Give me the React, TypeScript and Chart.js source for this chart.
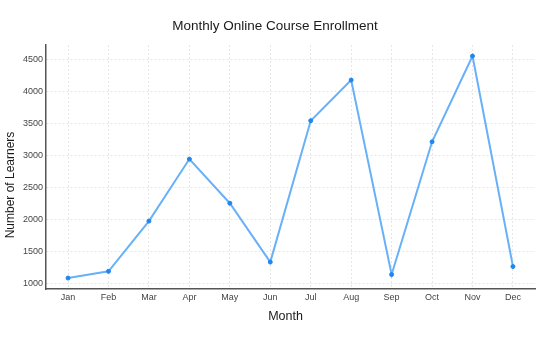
import React, { useEffect, useRef } from "react";
import { Chart, registerables } from "chart.js";

Chart.register(...registerables);

const months = ["Jan", "Feb", "Mar", "Apr", "May", "Jun", "Jul", "Aug", "Sep", "Oct", "Nov", "Dec"];
const learners = [1085, 1190, 1975, 2945, 2255, 1335, 3545, 4180, 1140, 3215, 4555, 1265];
const yTicks = [1000, 1500, 2000, 2500, 3000, 3500, 4000, 4500];

const FONT = "'Liberation Sans', Arial, Helvetica, sans-serif";

const axisTitles = {
  id: "axisTitles",
  afterDraw(chart: any) {
    const { ctx, chartArea } = chart;
    ctx.save();
    ctx.fillStyle = "#1a1a1a";
    ctx.textAlign = "center";
    ctx.textBaseline = "middle";
    ctx.font = `12.5px ${FONT}`;
    ctx.fillText("Month", (chartArea.left + chartArea.right) / 2 - 5, 316.5);
    ctx.translate(10.5, (chartArea.top + chartArea.bottom) / 2 + 18);
    ctx.rotate(-Math.PI / 2);
    ctx.font = `12px ${FONT}`;
    ctx.fillText("Number of Learners", 0, 0);
    ctx.restore();
  },
};

export default function App() {
  const ref = useRef<HTMLCanvasElement | null>(null);

  useEffect(() => {
    document.body.style.margin = "0";
    if (!ref.current) return;
    const chart = new Chart(ref.current, {
      type: "line",
      data: {
        datasets: [
          {
            data: learners.map((v, i) => ({ x: i, y: v })),
            borderColor: "#68b1f8",
            backgroundColor: "#1f86f2",
            pointBackgroundColor: "#1f86f2",
            pointBorderColor: "#1f86f2",
            pointRadius: 2,
            pointBorderWidth: 1,
            borderWidth: 2,
            tension: 0,
            fill: false,
          },
        ],
      },
      options: {
        responsive: false,
        animation: false,
        layout: { padding: { left: 15, right: 15, top: 0, bottom: 0 } },
        plugins: {
          legend: { display: false },
          tooltip: { enabled: false },
          title: {
            display: true,
            text: "Monthly Online Course Enrollment",
            color: "#1a1a1a",
            font: { family: FONT, size: 13.5, weight: "normal" },
            padding: { top: 18.5, bottom: 10.3 },
          },
        },
        scales: {
          x: {
            type: "linear",
            min: -0.545,
            max: 11.545,
            afterBuildTicks: (axis: any) => {
              axis.ticks = months.map((_, i) => ({ value: i }));
            },
            afterFit: (axis: any) => {
              axis.height = 61;
            },
            ticks: {
              autoSkip: false,
              maxRotation: 0,
              padding: 3,
              color: "#444",
              font: { family: FONT, size: 9 },
              callback: (v: any) => months[Number(v)] ?? "",
            },
            grid: { color: "#e6e6e6", lineWidth: 1, drawTicks: false },
            border: { display: true, color: "#555", width: 1.5, dash: [2, 2] },
          },
          y: {
            type: "linear",
            min: 914,
            max: 4728,
            afterBuildTicks: (axis: any) => {
              axis.ticks = yTicks.map((v) => ({ value: v }));
            },
            afterFit: (axis: any) => {
              axis.width = 31;
            },
            ticks: {
              padding: 3,
              color: "#444",
              font: { family: FONT, size: 9 },
              callback: (v: any) => String(v),
            },
            grid: { color: "#e6e6e6", lineWidth: 1, drawTicks: false },
            border: { display: true, color: "#555", width: 1.5, dash: [2, 2] },
          },
        },
      },
      plugins: [axisTitles],
    } as any);
    return () => chart.destroy();
  }, []);

  return (
    <div style={{ width: 550, height: 350 }}>
      <canvas ref={ref} width={550} height={350} style={{ display: "block" }} />
    </div>
  );
}
